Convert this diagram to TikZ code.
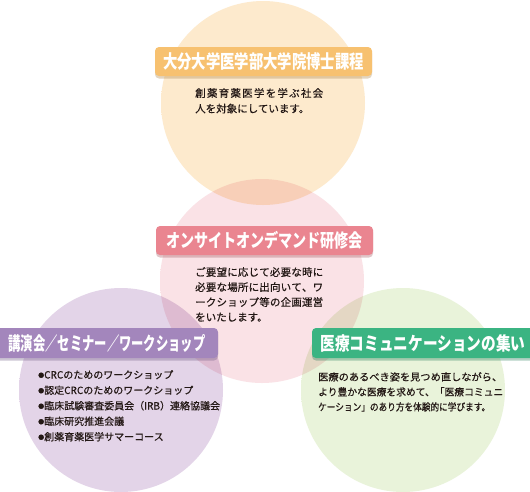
\documentclass[tikz,border=0pt]{standalone}
\usepackage{fontspec}
\usepackage{graphicx}
\setmainfont{Noto Sans CJK JP}
\newfontfamily\bodyfont{Noto Sans CJK JP}[FakeBold=0.5]
\definecolor{topin}{HTML}{FDEACD}
\definecolor{toprim}{HTML}{F8C680}
\definecolor{pinkin}{HTML}{FAE2E6}
\definecolor{pinkrim}{HTML}{F1B3BE}
\definecolor{purin}{HTML}{E3D4E8}
\definecolor{purrim}{HTML}{C6ACD3}
\definecolor{grnin}{HTML}{E9F3DA}
\definecolor{grnrim}{HTML}{BBDFB6}
\definecolor{toplbl}{HTML}{F7C170}
\definecolor{pinklbl}{HTML}{EA8590}
\definecolor{purlbl}{HTML}{A386BC}
\definecolor{grnlbl}{HTML}{3BB482}
\definecolor{ink}{HTML}{231815}
\pgfdeclareradialshading{shtop}{\pgfpoint{0bp}{0bp}}{color(0bp)=(topin);color(42bp)=(topin);color(50bp)=(toprim)}
\pgfdeclareradialshading{shpink}{\pgfpoint{0bp}{0bp}}{color(0bp)=(pinkin);color(42bp)=(pinkin);color(50bp)=(pinkrim)}
\pgfdeclareradialshading{shpur}{\pgfpoint{0bp}{0bp}}{color(0bp)=(purin);color(42bp)=(purin);color(50bp)=(purrim)}
\pgfdeclareradialshading{shgrn}{\pgfpoint{0bp}{0bp}}{color(0bp)=(grnin);color(42bp)=(grnin);color(50bp)=(grnrim)}
\makeatletter
\newcommand\spreadline[2]{\hbox to #1{\def\spsep{}\@tfor\spx:=#2\do{\spsep\spx\def\spsep{\hfil}}}}
\makeatother
\newcommand\fitline[2]{\resizebox{#1}{\height}{#2}}
\newcommand\lbltext[2]{\resizebox{#1}{\height}{\fontsize{18.5}{18.5}\selectfont\bfseries #2}}
\newcommand\bul{\makebox[6pt][l]{\raisebox{1pt}{\fontsize{6}{6}\selectfont ●}}}
\tikzset{
  x=1pt, y=-1pt,
  disc/.style={blend mode=multiply},
  lblbox/.style={rounded corners=4pt, minimum width=217pt, minimum height=29pt,
    inner sep=0pt, text=white, fill=#1,
    preaction={fill=#1!70!black, opacity=0.35, transform canvas={yshift=-2.5pt}}},
  body/.style={anchor=north west, inner sep=0pt, align=left, text=ink,
    font=\bodyfont\fontsize{10.5}{15.5}\selectfont},
}
\begin{document}
\begin{tikzpicture}
\useasboundingbox (0,0) rectangle (530,491);
\fill[white] (0,0) rectangle (530,491);
% circles
\shade[disc, shading=shtop] (263,103) circle[radius=102pt];
\shade[disc, shading=shpink] (262,281) circle[radius=102pt];
\shade[disc, shading=shpur] (121,390) circle[radius=102pt];
\shade[disc, shading=shgrn] (403,390) circle[radius=102pt];
% labels
\node[lblbox=toplbl] (ltop) at (263.5,61.5) {\lbltext{201pt}{大分大学医学部大学院博士課程}};
\node[lblbox=pinklbl] (lpink) at (264.5,240.5) {\lbltext{197pt}{オンサイトオンデマンド研修会}};
\node[lblbox=purlbl, minimum width=222pt, minimum height=30pt] (lpur) at (107,343) {\lbltext{197pt}{講演会／セミナー／ワークショップ}};
\node[lblbox=grnlbl, minimum width=222pt, minimum height=30pt] (lgrn) at (423,343) {\lbltext{205pt}{医療コミュニケーションの集い}};
% bodies
\node[body] (btop) at (195,88) {\spreadline{128pt}{創薬育薬医学を学ぶ社会}\\人を対象にしています。};
\node[body, font=\bodyfont\fontsize{10.5}{15}\selectfont] (bpink) at (195,267) {\spreadline{128pt}{ご要望に応じて必要な時に}\\\spreadline{128pt}{必要な場所に出向いて、ワ}\\\spreadline{128pt}{ークショップ等の企画運営}\\をいたします。};
\node[body, font=\bodyfont\fontsize{10}{15.5}\selectfont] (bpur) at (38,370) {\bul CRCのためのワークショップ\\\bul 認定CRCのためのワークショップ\\\bul 臨床試験審査委員会（IRB）連絡協議会\\\bul 臨床研究推進会議\\\bul 創薬育薬医学サマーコース};
\node[body, font=\bodyfont\fontsize{10}{15}\selectfont] (bgrn) at (318,372) {\fitline{184pt}{医療のあるべき姿を見つめ直しながら、}\\\fitline{185pt}{より豊かな医療を求めて、「医療コミュニ}\\\fitline{172pt}{ケーション」のあり方を体験的に学びます。}};
\end{tikzpicture}
\end{document}
